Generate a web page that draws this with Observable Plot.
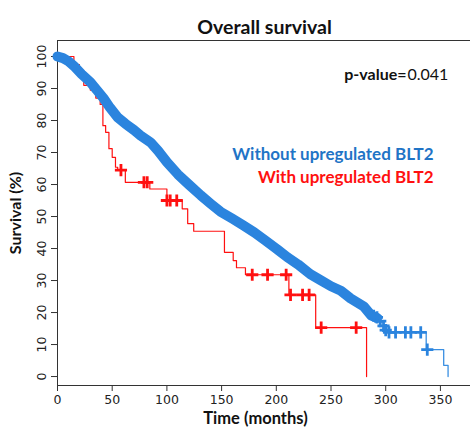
<!DOCTYPE html>
<html><head><meta charset="utf-8">
<script src="https://cdn.jsdelivr.net/npm/d3@7"></script>
<script src="https://cdn.jsdelivr.net/npm/@observablehq/plot@0.6"></script>
<style>
body{margin:0;background:#fff;}
#wrap{position:relative;width:470px;height:434px;overflow:hidden;}
</style></head><body><div id="wrap"></div>
<script>
// ---- data ----
const xTicks = [0, 50, 100, 150, 200, 250, 300, 350];
const yTicks = [0, 10, 20, 30, 40, 50, 60, 70, 80, 90, 100];

// Without upregulated BLT2 (blue): survival curve
const blueTime = [0, 5, 10, 16, 22, 30, 36, 42, 48, 55, 62, 70, 76, 85, 92, 100, 110, 120, 131, 140, 149, 160, 170, 180, 190, 201, 210, 220, 231, 240, 250, 259, 268, 280, 287, 292, 295, 298, 301, 337, 353, 357];
const blueSurv = [100, 99.5, 98.5, 96.7, 94.5, 92, 89.5, 87, 84, 81, 79, 77, 75.3, 73.2, 70.5, 67, 63.2, 60, 56.6, 54, 51.5, 49.3, 47.2, 45, 42.5, 39.7, 37.3, 35, 32, 30.2, 28.2, 26.8, 24.4, 21.9, 19, 18.3, 17, 15.9, 13.8, 8.4, 3.5, 0];
// blue censored marks (visible after the dense band)
const blueCensTime = [289, 292, 295, 298, 300, 303, 309, 318, 323, 332, 338];
const blueCensSurv = [19, 18.5, 17.3, 15.8, 14.5, 13.8, 13.8, 13.8, 13.8, 13.8, 8.4];

// With upregulated BLT2 (red): survival steps
const redTime = [0, 15, 20, 24, 30, 35, 39, 41.5, 44, 47, 50, 53, 55, 62, 84.4, 100, 114, 119, 124.5, 152.6, 160.6, 163.6, 171.8, 211.5, 236, 282.5];
const redSurv = [100, 97.5, 94.5, 91, 89.5, 87, 85, 78.4, 76.3, 71.2, 68.5, 65.4, 64.5, 60.7, 58.6, 55, 52.4, 47.8, 45.4, 38.8, 36.25, 34, 31.8, 25.5, 15.3, 0];
const redCensTime = [58, 79, 82, 100, 103, 109, 178, 192, 209, 213, 224, 230, 241, 273];
const redCensSurv = [64.5, 60.7, 60.7, 55, 55, 55, 31.8, 31.8, 31.8, 25.5, 25.5, 25.5, 15.3, 15.3];

const pLabel = "p-value=";
const pValue = "0.041";
const seriesNames = ["Without upregulated BLT2", "With upregulated BLT2"];
const title = "Overall survival";
const xLabel = "Time (months)";
const yLabel = "Survival (%)";

// ---- build tables ----
const blue = blueTime.map((t, i) => ({t, s: blueSurv[i]}));
const blueBand = blue.filter(d => d.t <= 292);
const blueTail = blue.filter(d => d.t >= 287);
const blueCens = blueCensTime.map((t, i) => ({t, s: blueCensSurv[i]}));
const red = redTime.map((t, i) => ({t, s: redSurv[i]}));
const redCens = redCensTime.map((t, i) => ({t, s: redCensSurv[i]}));

const BLUE = "#2b84de", BLUE_THIN = "#3a8fe2", BLUE_TXT = "#1f74c6", RED = "#ff1010";
const SANS = "Lato, 'Open Sans', sans-serif";

const chart = Plot.plot({
  width: 470, height: 434,
  marginTop: 40, marginLeft: 57, marginRight: 0, marginBottom: 49,
  x: {domain: [0, 377.5]},
  y: {domain: [-2.8, 105]},
  style: {fontFamily: "'DejaVu Sans', sans-serif", fontSize: "12px", background: "white", color: "#222"},
  marks: [
    Plot.frame({anchor: "top", stroke: "#333"}),
    Plot.frame({anchor: "left", stroke: "#333"}),
    Plot.frame({anchor: "bottom", stroke: "#333"}),
    Plot.axisX({ticks: xTicks, tickSize: 6, tickPadding: 4, fontSize: 12.5, label: null, stroke: "#333"}),
    Plot.axisY({ticks: yTicks, tickSize: 6, tickFormat: () => "", label: null, stroke: "#333"}),
    Plot.text(yTicks, {x: 0, y: d => d, text: d => String(d), rotate: -90, dx: -16, fontSize: 12.5, fill: "#222"}),
    // red (drawn beneath blue)
    Plot.line(red, {x: "t", y: "s", curve: "step-after", stroke: RED, strokeWidth: 1.2}),
    Plot.dot(redCens, {x: "t", y: "s", symbol: "plus", r: 4, stroke: RED, strokeWidth: 2.8}),
    // blue: dense band of censor marks, then thin step tail
    Plot.line(blueBand, {x: "t", y: "s", stroke: BLUE, strokeWidth: 10, strokeLinecap: "round", strokeLinejoin: "round"}),
    Plot.line(blueTail, {x: "t", y: "s", curve: "step-after", stroke: BLUE_THIN, strokeWidth: 1.3}),
    Plot.dot(blueCens, {x: "t", y: "s", symbol: "plus", r: 4, stroke: BLUE, strokeWidth: 2.8}),
    // texts
    Plot.text([title], {frameAnchor: "top-left", text: d => d, dx: 207, dy: -20, fontFamily: SANS, fontWeight: "bold", fontSize: 19.5, textAnchor: "middle", fill: "#111"}),
    Plot.text([pLabel], {frameAnchor: "top-right", text: d => d, dx: -64, dy: 28, fontFamily: SANS, fontWeight: "bold", fontSize: 16, textAnchor: "end", fill: "#111"}),
    Plot.text([pValue], {frameAnchor: "top-right", text: d => d, dx: -63, dy: 28, fontFamily: SANS, fontSize: 16, textAnchor: "start", fill: "#111"}),
    Plot.text([seriesNames[0]], {frameAnchor: "top-right", text: d => d, dx: -37, dy: 107, fontFamily: SANS, fontWeight: "bold", fontSize: 17, textAnchor: "end", fill: BLUE_TXT}),
    Plot.text([seriesNames[1]], {frameAnchor: "top-right", text: d => d, dx: -37, dy: 130, fontFamily: SANS, fontWeight: "bold", fontSize: 17, textAnchor: "end", fill: RED}),
    Plot.text([xLabel], {frameAnchor: "bottom-left", text: d => d, dx: 198, dy: 38, fontFamily: SANS, fontWeight: "bold", fontSize: 16.5, textAnchor: "middle", fill: "#111"}),
    Plot.text([yLabel], {frameAnchor: "left", text: d => d, dx: -42, rotate: -90, fontFamily: SANS, fontWeight: "bold", fontSize: 16, textAnchor: "middle", fill: "#111"})
  ]
});
document.getElementById("wrap").appendChild(chart);
</script></body></html>
